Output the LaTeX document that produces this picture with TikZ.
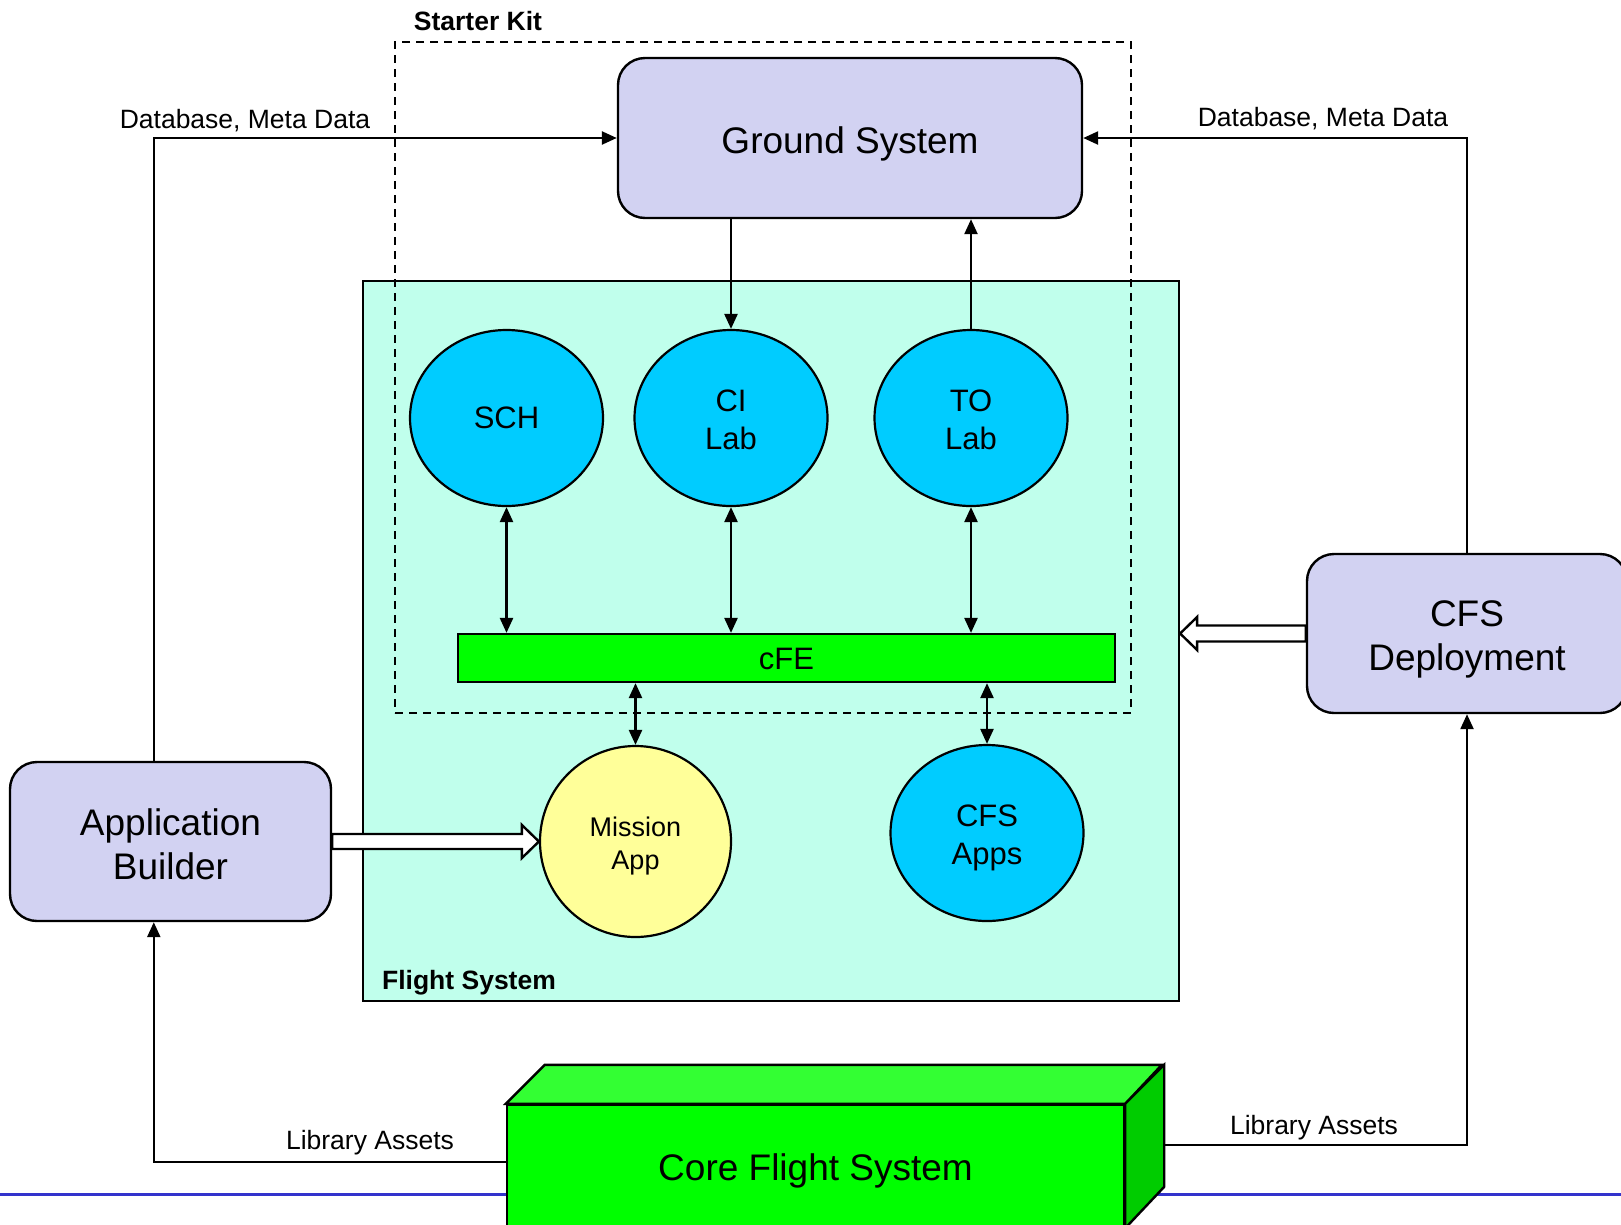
\documentclass[tikz,border=0pt]{standalone}
\usepackage{fontspec}
\setmainfont{Liberation Sans}
\usetikzlibrary{arrows.meta,calc,shapes.geometric}
\definecolor{lav}{RGB}{210,210,242}
\definecolor{fsc}{RGB}{192,255,236}
\definecolor{bub}{RGB}{0,204,255}
\definecolor{yel}{RGB}{255,255,153}
\definecolor{grn}{RGB}{0,255,0}
\definecolor{grntop}{RGB}{51,255,51}
\definecolor{grnside}{RGB}{0,204,0}
\definecolor{bline}{RGB}{51,51,204}
\newcommand\dn[2]{\raisebox{-#1pt}[\height][\depth]{\begin{tabular}{@{}c@{}}#2\end{tabular}}}
\begin{document}
\begin{tikzpicture}[x=1pt,y=-1pt,
  box/.style={draw, line width=2.4pt, rounded corners=27pt, fill=lav, inner sep=0pt, font=\fontsize{37}{44}\selectfont},
  bubble/.style={ellipse, draw, line width=2.2pt, fill=bub, minimum width=193pt, minimum height=176pt, inner sep=0pt, font=\fontsize{31}{38}\selectfont},
  lbl/.style={inner sep=0pt, font=\fontsize{26.5}{32}\selectfont},
  lblb/.style={inner sep=0pt, font=\fontsize{26.5}{32}\selectfont\bfseries},
  arr/.style={line width=2.4pt, -{Triangle[length=15pt,width=13pt]}},
  darr/.style={line width=2.4pt, {Triangle[length=15pt,width=13pt]}-{Triangle[length=15pt,width=13pt]}},
  hollow/.style={draw, line width=2.4pt, fill=white, line join=miter},
  face/.style={draw, line width=2.4pt, line join=miter}
]
\useasboundingbox (0,0) rectangle (1621,1224);
% bottom blue rule
\draw[bline, line width=3pt] (0,1194) -- (1621,1194);
% flight system
\node[draw, line width=2.2pt, fill=fsc, minimum width=816pt, minimum height=720pt, inner sep=0pt] (flight) at (771,641) {};
\node[lblb] (fslbl) at (469,983) {Flight System};
% starter kit
\node[draw, dashed, dash pattern=on 8pt off 6pt, line width=2pt, minimum width=736pt, minimum height=671pt, inner sep=0pt] (kit) at (763,377.5) {};
\node[lblb] (kitlbl) at (478,21) {Starter Kit};
% main boxes
\node[box, minimum width=464pt, minimum height=160pt] (ground) at (850,138) {\dn{7}{Ground System}};
\node[box, minimum width=321pt, minimum height=159pt] (appb) at (170.5,841.5) {\dn{7}{Application\\Builder}};
\node[box, minimum width=320pt, minimum height=159pt] (cfsd) at (1467,633.5) {\dn{6}{CFS\\Deployment}};
% bubbles
\node[bubble] (sch) at (506.5,418) {\dn{3}{SCH}};
\node[bubble] (ci) at (731,418) {\dn{5}{CI\\Lab}};
\node[bubble] (to) at (971,418) {\dn{5}{TO\\Lab}};
\node[bubble, fill=yel, minimum width=191pt, minimum height=191pt, font=\fontsize{27}{33}\selectfont] (mission) at (635.5,841.5) {\dn{5}{Mission\\App}};
\node[bubble] (apps) at (987,833) {\dn{5}{CFS\\Apps}};
% cFE bar
\node[draw, line width=2.2pt, fill=grn, minimum width=657pt, minimum height=48pt, inner sep=0pt, font=\fontsize{31}{38}\selectfont] (cfe) at (786.5,658) {\dn{4}{cFE}};
% core flight system cube
\node[face, fill=grn, minimum width=617pt, minimum height=122pt, inner sep=0pt, font=\fontsize{37}{44}\selectfont] (core) at (815.5,1166) {\dn{6}{Core Flight System}};
\draw[face, fill=grntop] (core.north west) -- ++(39,-39) -- ++(617,0) -- (core.north east) -- cycle;
\draw[face, fill=grnside] (core.north east) -- ++(39,-39) -- ++(0,122) -- (core.south east) -- cycle;
% helper coordinates
\coordinate (abt) at ($(appb.north west)+(145,0)$);
\coordinate (abb) at ($(appb.south west)+(145,0)$);
\coordinate (yL) at (0,1162);
\coordinate (yR) at (0,1145);
\coordinate (coreside) at ($(core.north east)+(39,0)$);
% connectors
\draw[arr] (abt) |- (ground.west);
\draw[arr] (cfsd.north) |- (ground.east);
\draw[arr] (ground.south -| ci.north) -- (ci.north);
\draw[arr] (to.north) -- (to.north |- ground.south);
\draw[darr] (sch.south) -- (sch.south |- cfe.north);
\draw[darr] (ci.south) -- (ci.south |- cfe.north);
\draw[darr] (to.south) -- (to.south |- cfe.north);
\draw[darr] (mission.north) -- (mission.north |- cfe.south);
\draw[darr] (apps.north) -- (apps.north |- cfe.south);
\draw[arr] (core.west |- yL) -| (abb);
\draw[arr] (coreside |- yR) -| (cfsd.south);
% hollow arrows
\coordinate (tipA) at (mission.west);
\draw[hollow] ($(appb.east)+(0,-7.5)$) -- ($(tipA)+(-17,-7.5)$) -- ($(tipA)+(-17,-16.5)$) -- (tipA) -- ($(tipA)+(-17,16.5)$) -- ($(tipA)+(-17,7.5)$) -- ($(appb.east)+(0,7.5)$) -- cycle;
\coordinate (tipB) at (flight.east |- cfsd.west);
\draw[hollow] ($(cfsd.west)+(0,-8)$) -- ($(tipB)+(17,-8)$) -- ($(tipB)+(17,-16.5)$) -- (tipB) -- ($(tipB)+(17,16.5)$) -- ($(tipB)+(17,8)$) -- ($(cfsd.west)+(0,8)$) -- cycle;
% labels
\node[lbl] (db1) at (245,121) {Database, Meta Data};
\node[lbl] (db2) at (1323,119) {Database, Meta Data};
\node[lbl] (la1) at (370,1143) {Library Assets};
\node[lbl] (la2) at (1314,1128) {Library Assets};
\end{tikzpicture}
\end{document}
